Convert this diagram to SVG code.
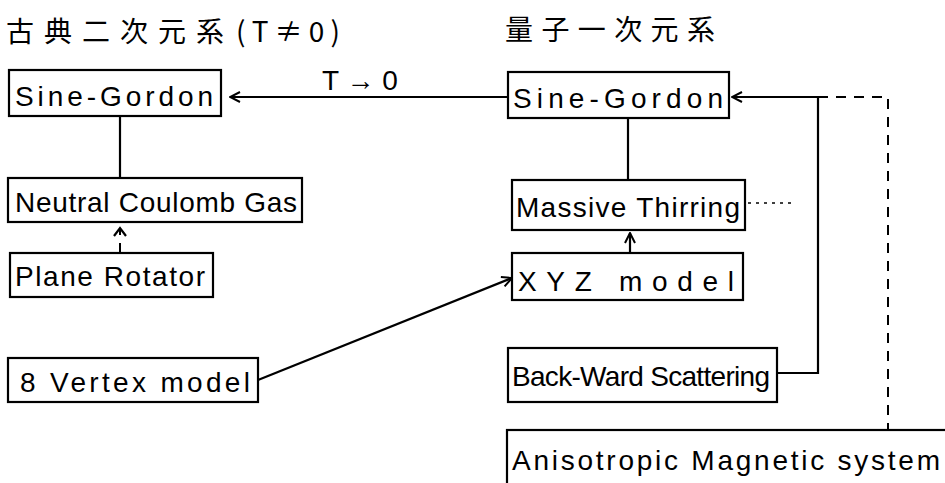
<svg xmlns="http://www.w3.org/2000/svg" width="945" height="483" viewBox="0 0 945 483">
  <style>
    .box { fill: none; stroke: #000; stroke-width: 2.2; }
    .lbl { font-family: "Liberation Sans", "Noto Sans", sans-serif; font-size: 28px; fill: #000; }
    .ttl { font-family: "Noto Sans CJK JP", "Noto Sans CJK SC", sans-serif; font-size: 28px; fill: #000; }
    .ln { fill: none; stroke: #000; stroke-width: 2.2; }
    .dash { fill: none; stroke: #000; stroke-width: 2; stroke-dasharray: 10 8; }
    .dot { fill: none; stroke: #000; stroke-width: 1.5; stroke-dasharray: 3 5; }
  </style>
  <defs>
    <marker id="arrow" viewBox="0 0 12 12" refX="11" refY="6" markerWidth="12" markerHeight="12" markerUnits="userSpaceOnUse" orient="auto">
      <path d="M1,1 L11,6 L1,11" fill="none" stroke="#000" stroke-width="2"/>
    </marker>
  </defs>
  <rect width="945" height="483" fill="#fff"/>

  <!-- column headings -->
  <g id="heading-classical">
    <text class="ttl" x="6" y="42" textLength="218" lengthAdjust="spacing">古典二次元系</text>
    <text class="ttl" x="236" y="42" textLength="104" lengthAdjust="spacing">(T≠0)</text>
  </g>
  <g id="heading-quantum">
    <text class="ttl" x="505" y="40" textLength="210" lengthAdjust="spacing">量子一次元系</text>
  </g>

  <!-- connectors -->
  <g id="connectors">
    <!-- T -> 0 limit between the two Sine-Gordon descriptions -->
    <line class="ln" x1="508" y1="97" x2="230" y2="97" marker-end="url(#arrow)"/>
    <text class="lbl" x="322" y="90" font-size="22">T → 0</text>
    <!-- left column -->
    <line class="ln" x1="120" y1="116" x2="120" y2="178"/>
    <line class="dash" x1="120" y1="253" x2="120" y2="228" stroke-dasharray="6 5"/>
    <path d="M114,236 L120,228 L126,236" class="ln" stroke-width="1.8"/>
    <line class="ln" x1="258" y1="380" x2="512" y2="278" marker-end="url(#arrow)"/>
    <!-- right column -->
    <line class="ln" x1="628" y1="118" x2="628" y2="180"/>
    <line class="ln" x1="630" y1="253" x2="630" y2="233" marker-end="url(#arrow)"/>
    <line class="dot" x1="748" y1="203" x2="792" y2="203"/>
    <polyline class="ln" points="777,373 818,373 818,97"/>
    <line class="ln" x1="818" y1="97" x2="732" y2="97" marker-end="url(#arrow)"/>
    <polyline class="dash" points="818,97 888,97 888,430"/>
  </g>

  <!-- classical 2D nodes -->
  <g id="sg-classical">
    <rect class="box" x="9" y="70" width="212" height="46"/>
    <text class="lbl" x="15" y="106" font-size="30" textLength="198" lengthAdjust="spacing">Sine-Gordon</text>
  </g>
  <g id="coulomb-gas">
    <rect class="box" x="8" y="178" width="294" height="44"/>
    <text class="lbl" x="15" y="212" textLength="282" lengthAdjust="spacing">Neutral Coulomb Gas</text>
  </g>
  <g id="plane-rotator">
    <rect class="box" x="10" y="253" width="203" height="44"/>
    <text class="lbl" x="15" y="286" textLength="190" lengthAdjust="spacing">Plane Rotator</text>
  </g>
  <g id="eight-vertex">
    <rect class="box" x="8" y="358" width="250" height="44"/>
    <text class="lbl" x="20" y="392" font-size="30" textLength="230" lengthAdjust="spacing">8 Vertex model</text>
  </g>

  <!-- quantum 1D nodes -->
  <g id="sg-quantum">
    <rect class="box" x="508" y="72" width="221" height="46"/>
    <text class="lbl" x="513" y="108" font-size="30" textLength="210" lengthAdjust="spacing">Sine-Gordon</text>
  </g>
  <g id="massive-thirring">
    <rect class="box" x="512" y="180" width="233" height="50"/>
    <text class="lbl" x="516" y="217" textLength="224" lengthAdjust="spacing">Massive Thirring</text>
  </g>
  <g id="xyz-model">
    <rect class="box" x="512" y="253" width="231" height="47"/>
    <text class="lbl" x="518" y="291" font-size="30" textLength="216" lengthAdjust="spacing">XYZ model</text>
  </g>
  <g id="backward-scattering">
    <rect class="box" x="508" y="348" width="269" height="54"/>
    <text class="lbl" x="512" y="386" font-size="25" textLength="258" lengthAdjust="spacing">Back-Ward Scattering</text>
  </g>
  <g id="anisotropic-magnet">
    <rect class="box" x="507" y="430" width="450" height="60"/>
    <text class="lbl" x="512" y="470" font-size="31" textLength="428" lengthAdjust="spacing">Anisotropic Magnetic system</text>
  </g>
</svg>
